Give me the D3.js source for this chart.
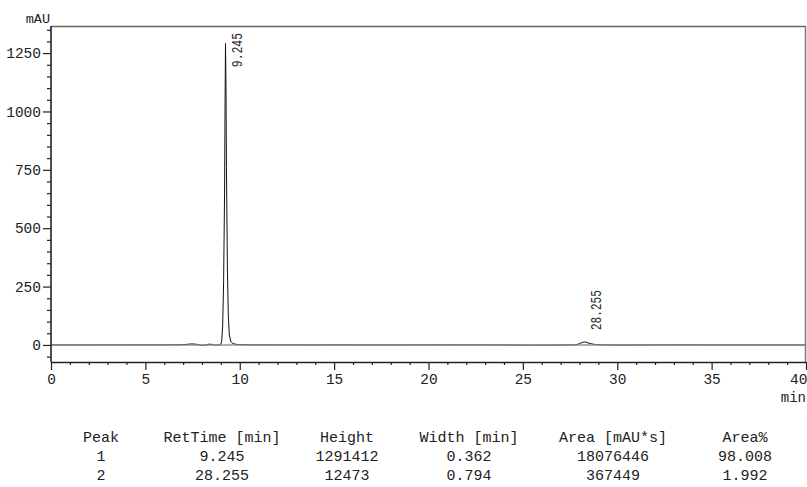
<!DOCTYPE html>
<html>
<head>
<meta charset="utf-8">
<script src="https://cdn.jsdelivr.net/npm/d3@7"></script>
<style>
  body { margin: 0; background: #fff; }
  svg { display: block; }
  text { font-family: "Liberation Mono", "DejaVu Sans Mono", monospace; fill: #222; }
</style>
</head>
<body>
<div class="canvas"></div>
<script>
// signal trace (min, mAU)
const times = [0, 2, 4, 5.5, 6.8, 7.2, 7.45, 7.7, 7.95, 8.15, 8.38, 8.55, 8.72, 8.85,
  8.93, 8.995, 9.045, 9.095, 9.145, 9.195, 9.22, 9.245, 9.27, 9.295, 9.345, 9.395, 9.445,
  9.52, 9.62, 9.78, 10.0, 10.5, 12, 14, 15.6, 16, 18, 21, 24, 25.5, 26.5, 27.3, 27.6, 27.8,
  27.95, 28.05, 28.15, 28.255, 28.35, 28.45, 28.6, 28.75, 28.9, 29.1, 29.4, 30, 32, 33.5,
  35, 37, 40];
const signal = [0, 0, 0.3, 0.3, 0.8, 2.5, 4.5, 3, -1.5, -1, 3.5, 2, -1.5, 0,
  0.5, 3, 17, 81, 272, 646, 1000, 1291, 1110, 760, 330, 125, 45,
  16, 7, 3, 1.5, 0.5, 0.2, 0, 0.5, 0, 0, 0.3, 0, -0.8, -0.5, 0, 0, 1,
  4, 7.5, 11, 12.5, 11.5, 9, 5.5, 3, 1.5, 0.5, 0, -0.3, 0, 0.5,
  0, 0, 0];

// peak labels
const peakTimes = [9.245, 28.255];
const peakHeights = [1291, 12.5];
const peakLabels = ["9.245", "28.255"];

// axis ticks
const xTicks = [0, 5, 10, 15, 20, 25, 30, 35, 40];
const yTicks = [0, 250, 500, 750, 1000, 1250];
const yDomain = [-73, 1366];

// results table
const tableHeaders = ["Peak", "RetTime [min]", "Height", "Width [min]", "Area [mAU*s]", "Area%"];
const peakNos = ["1", "2"];
const retTimes = ["9.245", "28.255"];
const heights = ["1291412", "12473"];
const widths = ["0.362", "0.794"];
const areas = ["18076446", "367449"];
const areaPcts = ["98.008", "1.992"];

const W = 807, H = 487;
const plotL = 51, plotR = 806, plotT = 26, plotB = 362;
const colX = [101, 222, 347, 469, 613, 745];
const rowY = [442, 461, 480];

const svg = d3.select('.canvas')
  .append('svg')
  .attr('width', W)
  .attr('height', H);

const x = d3.scaleLinear().domain([0, 40]).range([plotL, plotR]);
const y = d3.scaleLinear().domain(yDomain).range([plotB, plotT]);

// frame: top and right in grey
svg.append('line')
  .attr('x1', plotL).attr('x2', plotR).attr('y1', plotT + 0.5).attr('y2', plotT + 0.5)
  .attr('stroke', '#666').attr('stroke-width', 1.5);
svg.append('line')
  .attr('x1', plotR - 0.5).attr('x2', plotR - 0.5).attr('y1', plotT).attr('y2', plotB)
  .attr('stroke', '#777').attr('stroke-width', 1.5);

// trace
const line = d3.line()
  .x((d, i) => x(times[i]))
  .y(d => y(d));
svg.append('path')
  .datum(signal)
  .attr('d', line)
  .attr('fill', 'none')
  .attr('stroke', '#111')
  .attr('stroke-width', 1);

// baseline at 0
svg.append('line')
  .attr('x1', plotL).attr('x2', plotR).attr('y1', y(0)).attr('y2', y(0))
  .attr('stroke', '#8a8a8a').attr('stroke-width', 1.6)
  .attr('opacity', 0.9);

// minor ticks
const yMinor = d3.range(-50, 1351, 50).filter(v => v % 250 !== 0);
const xMinor = d3.range(0, 41, 1).filter(v => v % 5 !== 0);

const yMinorAxis = svg.append('g')
  .attr('transform', `translate(${plotL},0)`)
  .call(d3.axisLeft(y).tickValues(yMinor).tickSize(4).tickFormat(''));
yMinorAxis.select('.domain').remove();

const xMinorAxis = svg.append('g')
  .attr('transform', `translate(0,${plotB})`)
  .call(d3.axisBottom(x).tickValues(xMinor).tickSize(3).tickFormat(''));
xMinorAxis.select('.domain').remove();

// major axes
const yAxis = svg.append('g')
  .attr('transform', `translate(${plotL},0)`)
  .call(d3.axisLeft(y).tickValues(yTicks).tickSize(8).tickPadding(2)
    .tickSizeOuter(0).tickFormat(d3.format('d')));
yAxis.select('.domain').attr('d', `M0,${plotT}V${plotB}`);

const xAxis = svg.append('g')
  .attr('transform', `translate(0,${plotB})`)
  .call(d3.axisBottom(x).tickValues(xTicks).tickSize(8).tickPadding(4)
    .tickSizeOuter(0).tickFormat(d3.format('d')));

[yAxis, xAxis, yMinorAxis, xMinorAxis].forEach(g => {
  g.selectAll('line').attr('stroke', '#222').attr('stroke-width', 1.2);
  g.select('.domain').attr('stroke', '#222').attr('stroke-width', 1.6);
  g.selectAll('text')
    .attr('fill', '#222')
    .style('font-size', '14.5px')
    .style('font-family', '"Liberation Mono", monospace');
});
xAxis.selectAll('.tick').filter(d => d === 40).select('text')
  .attr('text-anchor', 'end').attr('dx', 1);

// axis titles
svg.append('text')
  .attr('x', plotL - 1).attr('y', 23)
  .attr('text-anchor', 'end')
  .style('font-size', '13.5px')
  .text('mAU');
svg.append('text')
  .attr('x', plotR).attr('y', 402)
  .attr('text-anchor', 'end')
  .style('font-size', '14px')
  .text('min');

// peak labels, rotated
peakLabels.forEach((lab, i) => {
  const len = (lab.length + 1) * 5.7;
  const px = x(peakTimes[i]) + 17;
  const py = Math.max(y(peakHeights[i]) - 12, plotT + 7 + len);
  svg.append('text')
    .attr('transform', `translate(${px},${py}) rotate(-90)`)
    .attr('textLength', len)
    .attr('lengthAdjust', 'spacingAndGlyphs')
    .style('font-size', '14px')
    .text(lab);
});

// results table
const rows = [tableHeaders,
  [peakNos[0], retTimes[0], heights[0], widths[0], areas[0], areaPcts[0]],
  [peakNos[1], retTimes[1], heights[1], widths[1], areas[1], areaPcts[1]]];

rows.forEach((row, r) => {
  row.forEach((cell, c) => {
    svg.append('text')
      .attr('x', colX[c])
      .attr('y', rowY[r])
      .attr('text-anchor', 'middle')
      .style('font-size', '15px')
      .text(cell);
  });
});
</script>
</body>
</html>
